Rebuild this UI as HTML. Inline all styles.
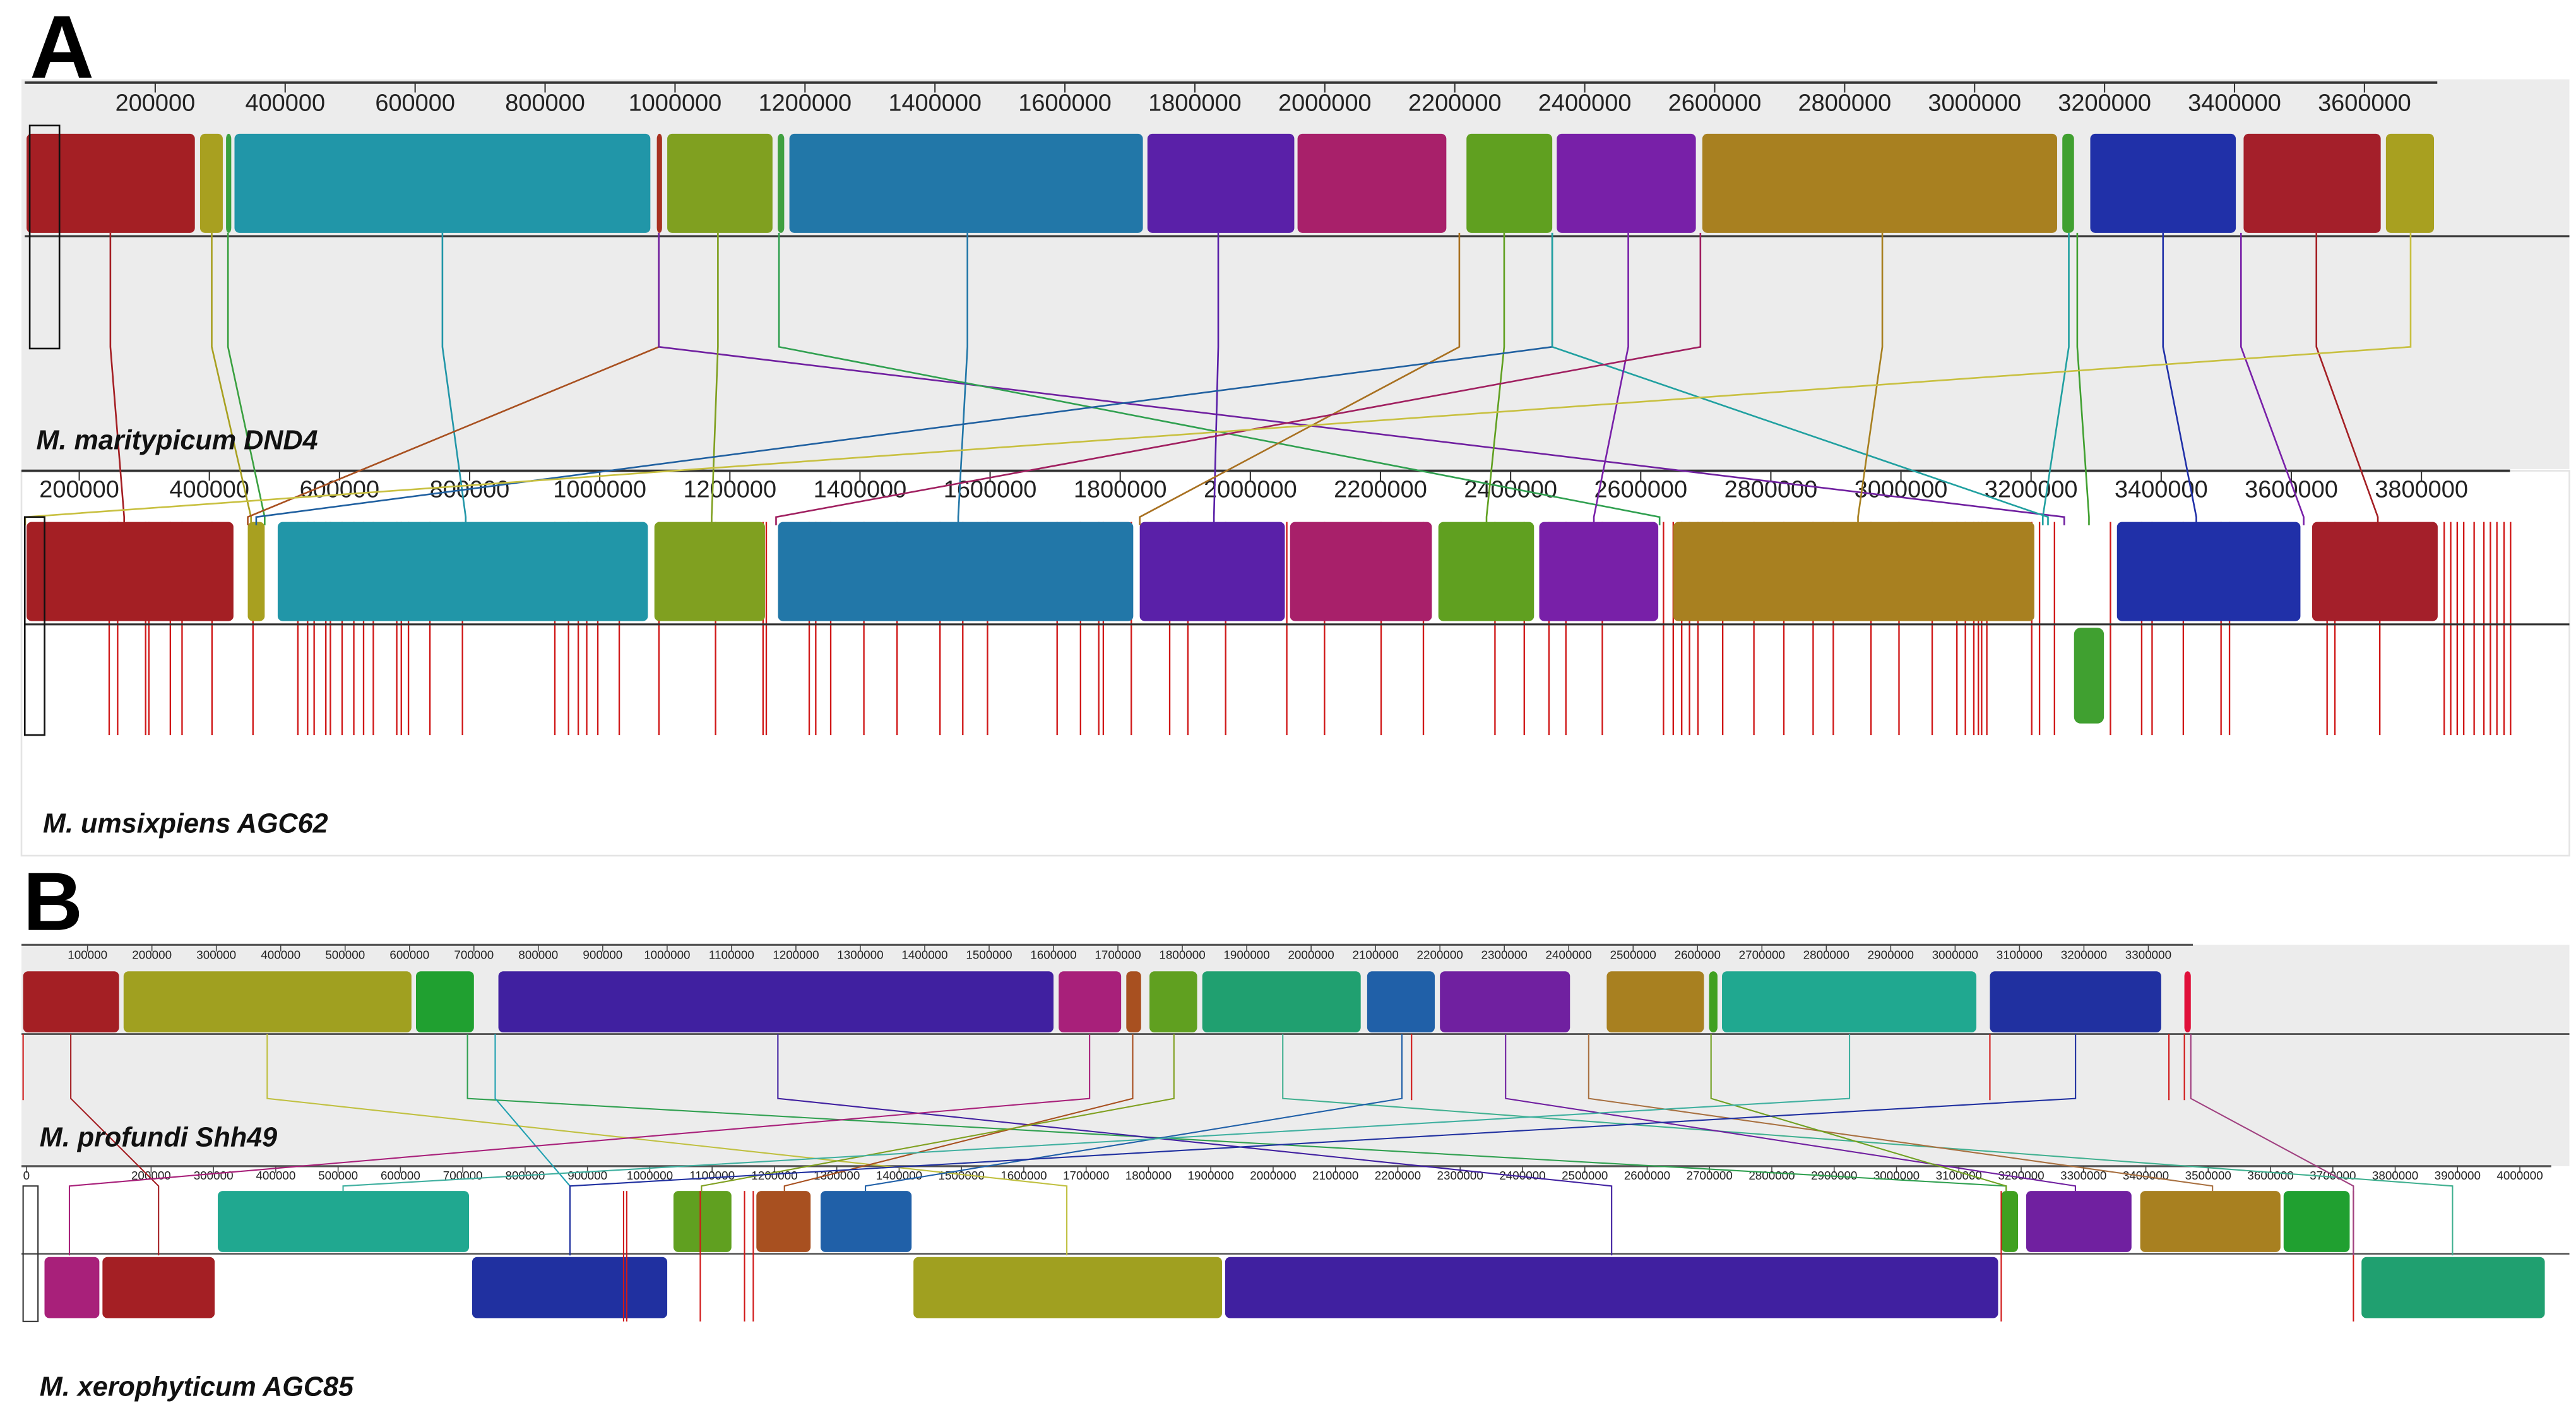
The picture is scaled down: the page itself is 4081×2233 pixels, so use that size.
<!DOCTYPE html>
<html><head><meta charset="utf-8"><style>
html,body{margin:0;padding:0;background:#fff;}
svg{display:block;}
</style></head>
<body>
<svg id="fig" xmlns="http://www.w3.org/2000/svg" width="4081" height="2233" viewBox="0 0 1560 853.6" preserveAspectRatio="none">
<rect x="0" y="0" width="1560" height="853.6" fill="#fff"/>
</svg>
<script>
// ===== Panel A data (kbp) =====
const aTopTicks = [200,400,600,800,1000,1200,1400,1600,1800,2000,2200,2400,2600,2800,3000,3200,3400,3600];
const aBotTicks = [200,400,600,800,1000,1200,1400,1600,1800,2000,2200,2400,2600,2800,3000,3200,3400,3600,3800];
const aTopStart = [2,269,309,322,972,988,1158,1176,1727,1958,2218,2357,2581,3135,3178,3414,3633];
const aTopEnd   = [261,304,317,962,980,1150,1168,1720,1953,2187,2350,2571,3127,3153,3402,3625,3707];
const aTopColor = ["#a41f24","#a8a020","#3aa040","#2196a8","#a83020","#80a020","#40a040","#2277a8","#5a20a8","#a8206a","#60a020","#7820a8","#a88020","#40a030","#2030a8","#a41f2a","#a8a020"];
const aBotStart = [119,459,505,1084,1274,1830,2061,2289,2444,2650,3332,3632];
const aBotEnd   = [437,485,1074,1254,1820,2053,2279,2436,2627,3205,3614,3825];
const aBotColor = ["#a41f24","#a8a020","#2196a8","#80a020","#2277a8","#5a20a8","#a8206a","#60a020","#7820a8","#a88020","#2030a8","#a41f2a"];
const aBotLowStart = [3266];
const aBotLowEnd = [3312];
const aBotLowColor = ["#40a030"];
const aConnTop = [131,287,312,642,975,975,1066,1160,1450,1836,2207,2276,2350,2350,2467,2578,2858,3145,3158,3290,3410,3526,3671];
const aConnBot = [269,464,485,794,459,3251,1172,2629,1551,1944,1830,2363,472,3226,2528,1271,2934,3218,3289,3454,3619,3733,117];
const aConnColor = ["#a41f24","#a8a020","#3aa040","#2196a8","#a85020","#7020a0","#80a020","#30a050","#2277a8","#5a20a8","#a87020","#60a020","#2060a0","#20a0a0","#7820a8","#a02060","#a88020","#20a0a0","#40a030","#2030a8","#7820a8","#a41f24","#c8c040"];
const aRedTicks = [246,259,302,307,340,358,404,467,536,551,561,579,586,604,622,637,652,688,695,706,739,789,931,952,967,980,997,1030,1091,1178,1251,1256,1322,1332,1355,1406,1457,1523,1558,1596,1703,1739,1767,1774,1817,1876,1904,1962,2056,2114,2201,2266,2376,2421,2459,2485,2541,2635,2650,2663,2675,2688,2726,2774,2820,2865,2896,2954,2997,3048,3086,3099,3112,3119,3124,3132,3201,3213,3236,3322,3370,3386,3434,3492,3505,3655,3667,3736,3835,3845,3855,3865,3881,3896,3906,3916,3927,3937];
// ===== Panel B data (kbp) =====
const bTopTicks = [100,200,300,400,500,600,700,800,900,1000,1100,1200,1300,1400,1500,1600,1700,1800,1900,2000,2100,2200,2300,2400,2500,2600,2700,2800,2900,3000,3100,3200,3300];
const bBotTicks = [0,200,300,400,500,600,700,800,900,1000,1100,1200,1300,1400,1500,1600,1700,1800,1900,2000,2100,2200,2300,2400,2500,2600,2700,2800,2900,3000,3100,3200,3300,3400,3500,3600,3700,3800,3900,4000];
const bTopStart = [0,156,610,738,1608,1713,1749,1831,2087,2200,2459,2618,2638,3054,3356];
const bTopEnd   = [149,603,700,1600,1705,1736,1823,2077,2192,2402,2610,2631,3033,3320,3366];
const bTopColor = ["#a41f24","#a0a020","#20a030","#4020a0","#a8207a","#a85020","#60a020","#20a070","#2060a8","#7020a0","#a88020","#40a020","#20a890","#2030a0","#e0103a"];
const bBotUpStart = [307,1038,1171,1274,3168,3208,3391,3621];
const bBotUpEnd   = [710,1131,1258,1420,3195,3377,3616,3727];
const bBotUpColor = ["#20a890","#60a020","#a85020","#2060a8","#40a020","#7020a0","#a88020","#20a030"];
const bBotLowStart = [29,122,715,1423,1923,3746];
const bBotLowEnd   = [117,302,1028,1918,3163,4040];
const bBotLowColor = ["#a8207a","#a41f24","#2030a0","#a0a020","#4020a0","#20a070"];
const bConnTop = [74,379,690,733,1172,1656,1723,1787,1956,2141,2302,2431,2621,2836,3187,3366];
const bConnBot = [212,1669,3176,872,2543,69,1216,1083,3892,1346,3287,3507,3176,508,872,3733];
const bConnLow = [1,1,0,1,1,1,0,0,1,0,0,0,0,0,1,1];
const bConnColor = ["#a41f24","#c0c040","#30a050","#20a0b0","#4020a0","#a8207a","#a85020","#80a020","#40b090","#2060a8","#7020a0","#a87040","#70a020","#40b0a0","#2030a0","#a04080"];
const bTopRed = [0,2156,3054,3332,3356];
const bBotRed = [958,963,1081,1152,1166,3168,3733];

// ===== scales (thumbnail coordinates) =====
const xAT = k => 15.3 + 0.3935*k;
const xAB = k => -30.8 + 0.394*k;
const xBT = k => 14 + 0.39*k;
const xBB = k => 16 + 0.3775*k;

const svg = document.getElementById('fig');
const NS = 'http://www.w3.org/2000/svg';
function mk(tag, attrs, parent){
  const e = document.createElementNS(NS, tag);
  for (const k in attrs) e.setAttribute(k, attrs[k]);
  (parent||svg).appendChild(e);
  return e;
}
function txt(x,y,s,size,attrs){
  const t = mk('text', Object.assign({x:x,y:y,'font-size':size,'font-family':'Liberation Sans, sans-serif'}, attrs||{}));
  t.textContent = s;
  return t;
}

// ---- Panel A backgrounds ----
let g = mk('rect',{x:13,y:48,width:1543,height:236,fill:'#ececec'});


g = mk('rect',{x:13,y:285,width:1543,height:233,fill:'#fff',stroke:'#e4e4e4','stroke-width':1});



let t = txt(18,47,'A',54,{'font-weight':'bold'});



// axes A
g = mk('line',{x1:15,y1:50,x2:1476,y2:50,stroke:'#333','stroke-width':1.5});


aTopTicks.forEach(k=>{
  const x = xAT(k);
  const l = mk('line',{x1:x,y1:50,x2:x,y2:56,stroke:'#333','stroke-width':0.8});
  
  
  const tt = txt(x,67,String(k*1000),14.5,{'text-anchor':'middle',fill:'#222'});
  
  
});
g = mk('line',{x1:13,y1:285,x2:1520,y2:285,stroke:'#333','stroke-width':1.5});


aBotTicks.forEach(k=>{
  const x = xAB(k);
  const l = mk('line',{x1:x,y1:285,x2:x,y2:291,stroke:'#333','stroke-width':0.8});
  
  
  const tt = txt(x,301,String(k*1000),14.5,{'text-anchor':'middle',fill:'#222'});
  
  
});

// red ticks A bottom
aRedTicks.forEach(k=>{
  const x = xAB(k);
  const l = mk('line',{x1:x,y1:316,x2:x,y2:445,stroke:'#d01818','stroke-width':0.9});
  
  
});

// blocks A
aTopStart.forEach((s,i)=>{
  const x1=xAT(s), x2=xAT(aTopEnd[i]);
  const r = mk('rect',{x:x1,y:81,width:Math.max(1,x2-x1),height:60,rx:3,fill:aTopColor[i]});
  
  
});
aBotStart.forEach((s,i)=>{
  const x1=xAB(s), x2=xAB(aBotEnd[i]);
  const r = mk('rect',{x:x1,y:316,width:Math.max(1,x2-x1),height:60,rx:3,fill:aBotColor[i]});
  
  
});
aBotLowStart.forEach((s,i)=>{
  const x1=xAB(s), x2=xAB(aBotLowEnd[i]);
  const r = mk('rect',{x:x1,y:380,width:x2-x1,height:58,rx:4,fill:aBotLowColor[i]});
  
  
});
// midlines A
g = mk('line',{x1:15,y1:143,x2:1556,y2:143,stroke:'#333','stroke-width':1.2});


g = mk('line',{x1:15,y1:378,x2:1556,y2:378,stroke:'#333','stroke-width':1.2});



// connections A
aConnTop.forEach((k,i)=>{
  const xt=xAT(k), xb=xAB(aConnBot[i]);
  const p = mk('polyline',{points:`${xt},141 ${xt},210 ${xb},313 ${xb},318`,fill:'none',stroke:aConnColor[i],'stroke-width':1});
  
  
});
// black boxes A
g = mk('rect',{x:18,y:76,width:18,height:135,fill:'none',stroke:'#111','stroke-width':1});


g = mk('rect',{x:15,y:313,width:12,height:132,fill:'none',stroke:'#111','stroke-width':1});



t = txt(22,272,'M. maritypicum DND4',16.5,{'font-weight':'bold','font-style':'italic',fill:'#111'});


t = txt(26,504,'M. umsixpiens AGC62',16.5,{'font-weight':'bold','font-style':'italic',fill:'#111'});



// ---- Panel B ----
g = mk('rect',{x:13,y:572,width:1543,height:134,fill:'#ececec'});


t = txt(14,563,'B',50,{'font-weight':'bold'});



g = mk('line',{x1:13,y1:572,x2:1328,y2:572,stroke:'#555','stroke-width':1.2});


bTopTicks.forEach(k=>{
  const x = xBT(k);
  const l = mk('line',{x1:x,y1:572,x2:x,y2:576,stroke:'#444','stroke-width':0.6});
  
  
  const tt = txt(x,580.5,String(k*1000),7.2,{'text-anchor':'middle',fill:'#222'});
  
  
});
g = mk('line',{x1:13,y1:706,x2:1545,y2:706,stroke:'#555','stroke-width':1.2});


bBotTicks.forEach(k=>{
  const x = xBB(k);
  const l = mk('line',{x1:x,y1:706,x2:x,y2:710,stroke:'#444','stroke-width':0.6});
  
  
  const tt = txt(x,714,String(k*1000),7.2,{'text-anchor':'middle',fill:'#222'});
  
  
});

bTopStart.forEach((s,i)=>{
  const x1=xBT(s), x2=xBT(bTopEnd[i]);
  const r = mk('rect',{x:x1,y:588,width:Math.max(1.5,x2-x1),height:37,rx:3,fill:bTopColor[i]});
  
  
});
bBotUpStart.forEach((s,i)=>{
  const x1=xBB(s), x2=xBB(bBotUpEnd[i]);
  const r = mk('rect',{x:x1,y:721,width:x2-x1,height:37,rx:3,fill:bBotUpColor[i]});
  
  
});
bBotLowStart.forEach((s,i)=>{
  const x1=xBB(s), x2=xBB(bBotLowEnd[i]);
  const r = mk('rect',{x:x1,y:761,width:x2-x1,height:37,rx:3,fill:bBotLowColor[i]});
  
  
});
g = mk('line',{x1:13,y1:626,x2:1556,y2:626,stroke:'#444','stroke-width':1});


g = mk('line',{x1:13,y1:759,x2:1556,y2:759,stroke:'#555','stroke-width':1});



bTopRed.forEach(k=>{
  const x = xBT(k);
  const l = mk('line',{x1:x,y1:626,x2:x,y2:666,stroke:'#d01818','stroke-width':0.8});
  
  
});
bBotRed.forEach(k=>{
  const x = xBB(k);
  const l = mk('line',{x1:x,y1:721,x2:x,y2:800,stroke:'#d01818','stroke-width':0.8});
  
  
});

bConnTop.forEach((k,i)=>{
  const xt=xBT(k), xb=xBB(bConnBot[i]);
  const yEnd = bConnLow[i] ? 760 : 721;
  const p = mk('polyline',{points:`${xt},626 ${xt},665 ${xb},718 ${xb},${yEnd}`,fill:'none',stroke:bConnColor[i],'stroke-width':0.8});
  
  
});
g = mk('rect',{x:14,y:718,width:9,height:82,fill:'none',stroke:'#333','stroke-width':0.8});



t = txt(24,694,'M. profundi Shh49',16.5,{'font-weight':'bold','font-style':'italic',fill:'#111'});


t = txt(24,845,'M. xerophyticum AGC85',16.5,{'font-weight':'bold','font-style':'italic',fill:'#111'});


</script>
</body></html>
